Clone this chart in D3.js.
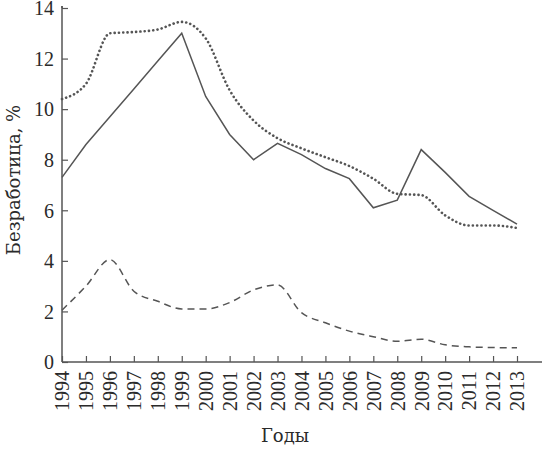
<!DOCTYPE html>
<html>
<head>
<meta charset="utf-8">
<script src="https://cdn.jsdelivr.net/npm/d3@7"></script>
<style>
  body { margin: 0; background: #fff; }
</style>
</head>
<body>
<div id="chart"></div>
<script>
'use strict';

var TICK_FONT = "'Liberation Serif', 'DejaVu Serif', serif";
var TITLE_FONT = "'DejaVu Serif', 'Liberation Serif', serif";

// years along the x axis
var years = d3.range(1994, 2014);

// solid line
var solidValues = [7.3, 8.6, 9.7, 10.8, 11.9, 13.0, 10.5, 9.0, 8.0, 8.65, 8.2, 7.65, 7.25, 6.1, 6.4, 8.4, 7.5, 6.55, 6.0, 5.45];
// dotted line
var dottedValues = [10.4, 11.0, 13.0, 13.05, 13.15, 13.45, 12.8, 10.75, 9.55, 8.85, 8.45, 8.1, 7.75, 7.25, 6.65, 6.6, 5.8, 5.4, 5.4, 5.3];
// dashed line
var dashedValues = [2.05, 3.0, 4.05, 2.8, 2.4, 2.1, 2.1, 2.35, 2.85, 3.05, 1.95, 1.55, 1.22, 1.0, 0.82, 0.9, 0.68, 0.6, 0.57, 0.56];

var yTicks = [0, 2, 4, 6, 8, 10, 12, 14];

var width = 542, height = 460;
var margin = { top: 8, right: 24, bottom: 98, left: 62 };
var innerW = width - margin.left - margin.right;
var innerH = height - margin.top - margin.bottom;

var svg = d3.select('#chart').append('svg')
  .attr('width', width)
  .attr('height', height);

var g = svg.append('g')
  .attr('transform', 'translate(' + margin.left + ',' + margin.top + ')');

var x = d3.scaleLinear().domain([1994, 2013]).range([0, innerW - 1]);
var y = d3.scaleLinear().domain([0, 14]).range([innerH, 0]);

// axes, ticks pointing inward
var yAxis = g.append('g')
  .call(d3.axisLeft(y).tickValues(yTicks).tickSizeInner(-6).tickSizeOuter(0).tickPadding(8));
var xAxis = g.append('g')
  .attr('transform', 'translate(0,' + innerH + ')')
  .call(d3.axisBottom(x).tickValues(years).tickFormat(d3.format('d')).tickSizeInner(-6).tickSizeOuter(0));

[yAxis, xAxis].forEach(function (ax) {
  ax.attr('font-family', TICK_FONT).attr('font-size', 20);
  ax.select('.domain').attr('stroke', '#555').attr('stroke-width', 1.5);
  ax.selectAll('.tick line').attr('stroke', '#555').attr('stroke-width', 1.2);
  ax.selectAll('text').attr('fill', '#2a2a2a');
});

// stretch the axis lines a bit past the data like the original
xAxis.select('.domain').attr('d', 'M0,0H' + (width - margin.left));
yAxis.select('.domain').attr('d', 'M0,0V-2');
yAxis.append('line').attr('x1', 0).attr('x2', 0).attr('y1', -2).attr('y2', innerH)
  .attr('stroke', '#555').attr('stroke-width', 1.5);

yAxis.selectAll('text').attr('dy', '0.34em');

xAxis.selectAll('.tick text')
  .attr('transform', 'rotate(-90)')
  .attr('text-anchor', 'end')
  .attr('x', -9)
  .attr('y', 0)
  .attr('dy', '0.34em');

// axis titles
svg.append('text')
  .attr('transform', 'translate(20,180) rotate(-90)')
  .attr('text-anchor', 'middle')
  .attr('font-family', TITLE_FONT)
  .attr('font-size', 18)
  .attr('fill', '#2a2a2a')
  .text('Безработица, %');

svg.append('text')
  .attr('x', 285)
  .attr('y', 442)
  .attr('text-anchor', 'middle')
  .attr('font-family', TITLE_FONT)
  .attr('font-size', 18)
  .attr('fill', '#2a2a2a')
  .text('Годы');

function drawLine(values, curve, dash, widthPx, cap) {
  var line = d3.line()
    .x(function (d, i) { return x(years[i]); })
    .y(function (d) { return y(d); })
    .curve(curve);
  g.append('path')
    .datum(values)
    .attr('fill', 'none')
    .attr('stroke', '#555')
    .attr('stroke-width', widthPx)
    .attr('stroke-dasharray', dash)
    .attr('stroke-linecap', cap)
    .attr('d', line);
}

drawLine(solidValues, d3.curveLinear, null, 1.5, 'butt');
drawLine(dottedValues, d3.curveMonotoneX, '0.1,4.2', 2.6, 'round');
drawLine(dashedValues, d3.curveMonotoneX, '7,5', 1.5, 'butt');
</script>
</body>
</html>
